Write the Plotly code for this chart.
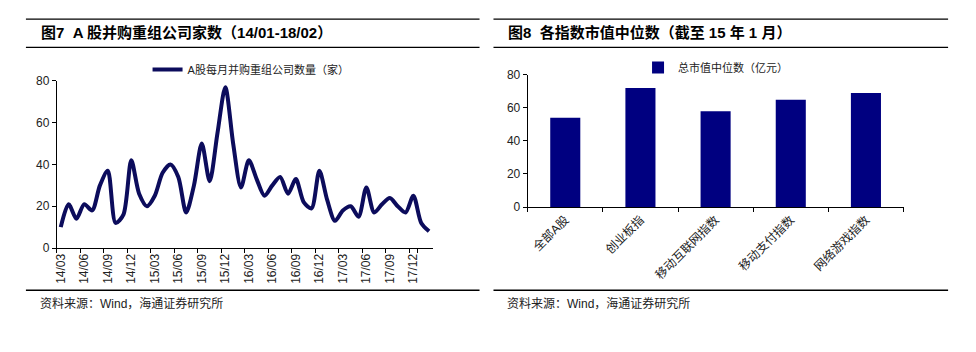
import plotly.graph_objects as go

# ---------------- data ----------------
months = [f"{y:02d}/{m:02d}" for y in range(14, 19) for m in range(1, 13)]
months = months[months.index("14/03"):months.index("18/02") + 1]
ma_counts = [10, 21, 14, 21, 18, 30, 37, 12, 16, 42, 26, 20,
             25, 36, 40, 34, 17, 30, 50, 32, 55, 77, 50, 29,
             42, 33, 25, 30, 34, 26, 33, 22, 19, 37, 23, 13,
             18, 20, 15, 29, 17, 21, 24, 20, 17, 25, 12, 8]
line_name = "A股每月并购重组公司数量（家）"
left_ticks = months[0::3]

idx_names = ["全部A股", "创业板指", "移动互联网指数", "移动支付指数", "网络游戏指数"]
idx_median = [54, 72, 58, 65, 69]
bar_name = "总市值中位数（亿元）"

title_left = "图7  A 股并购重组公司家数（14/01-18/02）"
title_right = "图8  各指数市值中位数（截至 15 年 1 月）"
source = "资料来源：Wind，海通证券研究所"

# ---------------- figure ----------------
W, H = 976, 352
FONT = "Liberation Sans, Arial, Noto Sans CJK SC, sans-serif"
TXT = "#222222"

def px(x):
    return x / W

def py(y):
    return 1 - y / H

fig = go.Figure()
fig.add_trace(go.Scatter(
    x=months, y=ma_counts, mode="lines", name=line_name,
    line=dict(color="#0c0c5c", width=4, shape="spline", smoothing=0.8),
    xaxis="x", yaxis="y", legend="legend",
))
fig.add_trace(go.Bar(
    x=idx_names, y=idx_median, name=bar_name, width=0.4,
    marker=dict(color="#000080", line=dict(width=0)),
    xaxis="x2", yaxis="y2", legend="legend2",
))

axis_common = dict(showline=True, linecolor="black", linewidth=1,
                   ticks="outside", ticklen=4, tickcolor="black",
                   showgrid=False, zeroline=False,
                   tickfont=dict(family=FONT, size=12, color=TXT))

fig.update_layout(
    width=W, height=H,
    margin=dict(l=0, r=0, t=0, b=0),
    paper_bgcolor="white", plot_bgcolor="white",
    font=dict(family=FONT, size=12, color=TXT),
    xaxis=dict(domain=[px(54), px(431.3)], type="category",
               tickson="boundaries", tickmode="array", tickvals=left_ticks,
               ticktext=left_ticks, tickangle=-90, anchor="y",
               range=[-0.5, len(months) - 0.5], **axis_common),
    yaxis=dict(domain=[py(251), py(77)], range=[0, 80], dtick=20,
               anchor="x", **axis_common),
    xaxis2=dict(domain=[px(526.3), px(903.3)], type="category",
                tickson="boundaries", tickangle=-45, anchor="y2",
                range=[-0.5, len(idx_names) - 0.5], **axis_common),
    yaxis2=dict(domain=[py(208.3), py(70.7)], range=[0, 80], dtick=20,
                anchor="x2", **axis_common),
    legend=dict(x=px(145), y=py(65), xanchor="left", yanchor="middle",
                bgcolor="rgba(0,0,0,0)", font=dict(size=11, color=TXT),
                itemwidth=30),
    legend2=dict(x=px(637), y=py(63), xanchor="left", yanchor="middle",
                 bgcolor="rgba(0,0,0,0)", font=dict(size=11, color=TXT),
                 itemwidth=30),
    showlegend=True,
)

# title rules and footer rules
for (x0, x1) in [(23, 478), (492, 948)]:
    for yy in (12.7, 42, 295):
        fig.add_shape(type="line", xref="paper", yref="paper",
                      x0=px(x0), x1=px(x1), y0=py(yy), y1=py(yy),
                      line=dict(color="black", width=1.3))

for text, x in [(title_left, 36), (title_right, 505)]:
    fig.add_annotation(text=f"<b>{text}</b>", xref="paper", yref="paper",
                       x=px(x), y=py(27), xanchor="left", yanchor="middle",
                       showarrow=False, font=dict(size=15, color="black", family=FONT))

for x in (35, 504):
    fig.add_annotation(text=source, xref="paper", yref="paper",
                       x=px(x), y=py(309), xanchor="left", yanchor="middle",
                       showarrow=False, font=dict(size=12, color=TXT, family=FONT))

fig.write_html("out.html")
